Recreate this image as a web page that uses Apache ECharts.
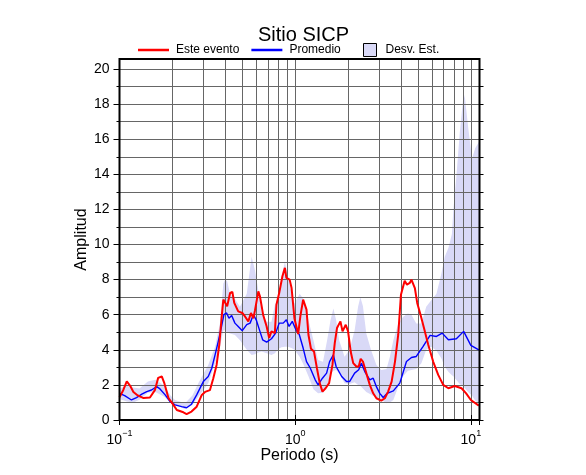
<!DOCTYPE html>
<html><head><meta charset="utf-8">
<script src="https://cdn.jsdelivr.net/npm/echarts@6/dist/echarts.min.js"></script>
<style>html,body{margin:0;padding:0;background:#fff}#c{width:586px;height:475px}</style>
</head><body><div id="c"></div>
<script>
// ---- data ----
const redT = [0.1,0.105,0.110,0.115,0.120,0.127,0.137,0.149,0.159,0.166,0.174,0.180,0.190,0.200,0.212,0.231,0.241,0.257,0.275,0.294,0.307,0.327,0.342,0.357,0.370,0.381,0.390,0.400,0.410,0.426,0.439,0.450,0.474,0.500,0.518,0.541,0.560,0.578,0.590,0.617,0.630,0.657,0.688,0.711,0.733,0.766,0.782,0.811,0.846,0.874,0.891,0.930,0.954,0.990,1.04,1.07,1.11,1.16,1.19,1.23,1.28,1.33,1.38,1.43,1.49,1.56,1.63,1.68,1.73,1.81,1.86,1.94,2.0,2.07,2.14,2.23,2.30,2.36,2.43,2.54,2.66,2.78,2.90,3.09,3.24,3.38,3.54,3.70,3.86,4.0,4.2,4.33,4.49,4.59,4.69,4.8,4.95,5.17,5.47,5.72,6.1,6.52,6.96,7.45,8.1,8.85,9.4,10,11.1];
const redA = [1.3,1.7,2.2,1.95,1.6,1.4,1.25,1.28,1.7,2.4,2.48,2.1,1.25,0.95,0.57,0.44,0.34,0.48,0.76,1.43,1.6,1.7,2.38,3.14,4.3,5.8,6.86,6.76,6.48,7.24,7.3,6.67,6.19,6.1,5.9,5.62,6.1,5.8,6.23,7.33,7.05,6.0,5.33,4.67,5.05,4.95,6.57,7.24,8.19,8.67,8.1,8.0,7.52,5.8,4.9,5.9,6.86,6.29,4.86,4.06,3.9,2.95,2.1,1.62,1.81,2.1,3.14,4.38,5.24,5.62,5.05,5.43,5.05,3.9,3.24,3.05,3.05,3.49,3.33,2.67,2.0,1.52,1.24,1.1,1.24,1.62,2.19,3.33,4.86,7.14,7.94,7.71,7.81,8.0,8.1,7.52,6.67,6.0,5.05,4.29,3.33,2.57,2.0,1.81,1.94,1.81,1.52,1.14,0.82];

const blueT = [0.1,0.107,0.117,0.125,0.134,0.143,0.152,0.163,0.170,0.182,0.194,0.207,0.226,0.241,0.257,0.275,0.300,0.320,0.335,0.350,0.365,0.381,0.393,0.407,0.420,0.435,0.454,0.474,0.500,0.530,0.554,0.578,0.600,0.630,0.653,0.688,0.733,0.774,0.811,0.855,0.891,0.923,0.963,1.01,1.056,1.11,1.16,1.22,1.30,1.35,1.43,1.51,1.57,1.65,1.71,1.84,1.96,2.04,2.18,2.30,2.38,2.49,2.66,2.78,2.90,3.03,3.17,3.34,3.62,3.94,4.3,4.59,4.89,5.35,5.86,6.37,6.87,7.45,8.27,9.1,10,11.1];
const blueA = [1.52,1.39,1.14,1.28,1.47,1.62,1.71,1.9,1.77,1.43,1.05,0.86,0.76,0.7,0.9,1.43,2.19,2.48,2.95,3.71,4.48,5.33,6.0,6.1,5.8,5.96,5.52,5.33,5.09,5.43,5.52,6.0,5.71,5.05,4.57,4.44,4.63,4.95,5.52,5.52,5.71,5.33,5.62,5.14,4.86,4.1,3.33,2.95,2.29,2.0,2.38,2.67,3.33,3.71,3.05,2.48,2.19,2.19,2.67,2.86,3.24,2.76,2.29,2.38,1.9,1.52,1.28,1.52,1.66,2.1,3.33,3.56,3.62,4.19,4.82,4.76,4.95,4.57,4.63,5.05,4.25,4.0];

const bandT = [0.1,0.11,0.12,0.13,0.145,0.16,0.18,0.195,0.207,0.236,0.26,0.281,0.32,0.35,0.373,0.39,0.40,0.41,0.426,0.454,0.485,0.53,0.565,0.59,0.617,0.644,0.688,0.733,0.766,0.81,0.836,0.874,0.91,0.953,0.99,1.06,1.11,1.19,1.27,1.35,1.44,1.52,1.59,1.65,1.71,1.78,1.91,2.04,2.18,2.28,2.35,2.43,2.54,2.7,2.9,3.09,3.31,3.46,3.62,3.86,4.12,4.38,4.59,4.89,5.23,5.57,5.95,6.37,6.8,7.1,7.45,7.8,7.95,8.27,8.64,9.1,9.27,9.65,10.15,10.6,11.2];
const bandLower = [1.2,1.05,1.0,1.15,1.55,1.6,1.33,1.0,0.85,0.62,0.85,1.33,2.09,3.23,4.17,5.12,5.1,5.0,4.93,4.84,4.55,4.0,3.7,3.75,3.85,3.9,3.8,3.7,3.8,4.08,4.15,4.17,4.17,4.1,4.0,3.6,3.2,2.5,1.75,1.52,1.55,1.95,2.6,2.8,2.85,2.65,2.1,2.05,2.15,2.0,1.95,1.8,1.6,1.45,1.25,1.15,0.95,1.0,1.14,1.9,2.5,2.8,2.85,2.9,3.23,4.0,4.17,3.95,3.5,3.04,2.75,2.55,2.5,2.28,2.05,1.9,1.8,1.6,1.4,1.1,0.95];
const bandUpper = [1.8,1.95,1.85,1.8,2.2,2.3,1.95,1.4,1.14,0.95,1.4,2.09,3.13,4.17,5.5,7.78,8.0,7.9,7.2,6.9,6.45,7.2,9.3,8.54,7.4,6.17,5.6,5.6,6.55,7.0,8.16,9.0,8.16,7.3,6.64,7.2,6.93,5.7,4.55,3.42,3.32,4.55,5.7,6.36,5.7,4.55,3.6,4.0,5.12,6.45,7.0,6.5,4.93,4.0,3.13,2.85,2.9,3.6,4.55,5.5,5.88,6.07,6.0,5.5,5.5,6.45,6.83,7.2,8.35,9.3,9.8,10.6,11.97,13.86,16.33,18.6,18.3,16.7,14.9,15.5,15.9];

const xGridVals = [0.2,0.3,0.4,0.5,0.6,0.7,0.8,0.9,1,2,3,4,5,6,7,8,9,10];
const xDecades = [0.1,1,10];
const yMajor = [0,2,4,6,8,10,12,14,16,18,20];
const yUnits = [0,1,2,3,4,5,6,7,8,9,10,11,12,13,14,15,16,17,18,19,20];

// ---- chart ----
const FONT = 'Liberation Sans, Arial, sans-serif';
const gridColor = '#666666';
const bandColor = '#d9d9f7';
const chart = echarts.init(document.getElementById('c'), null, {renderer: 'canvas'});
const XMIN = 0.1, XMAX = 11.2, YMAX = 20.57;

function logAxis(extra) {
  return Object.assign({
    type: 'log', logBase: 10, min: XMIN, max: XMAX, interval: 1, z: 3,
    axisLine: {show: false},
    axisLabel: {show: false},
    splitLine: {show: false},
    axisTick: {show: true, length: 5, lineStyle: {color: '#000'}}
  }, extra);
}

chart.setOption({
  animation: false,
  textStyle: {fontFamily: FONT},
  title: {
    text: 'Sitio SICP', left: 253, top: 20,
    textStyle: {fontSize: 20, fontWeight: 'normal', color: '#000', fontFamily: FONT}
  },
  legend: [
    {
      data: [{name: 'Este evento', icon: 'rect'}, {name: 'Promedio', icon: 'rect'}],
      left: 138, top: 44, itemWidth: 31, itemHeight: 2.5, itemGap: 12, padding: 0,
      textStyle: {fontSize: 12, color: '#000', padding: [0, 0, 0, 2], fontFamily: FONT, lineHeight: 12}
    },
    {
      data: [{name: 'Desv. Est.', icon: 'rect', itemStyle: {color: bandColor, borderColor: '#000', borderWidth: 1}}],
      left: 363, top: 43, itemWidth: 13, itemHeight: 13, padding: 0,
      textStyle: {fontSize: 12, color: '#000', padding: [0, 0, 0, 4], fontFamily: FONT}
    }
  ],
  grid: {
    left: 119.5, right: 586 - 479.5, top: 59, bottom: 475 - 420,
    show: true, z: 8, backgroundColor: 'transparent', borderColor: '#000', borderWidth: 2
  },
  xAxis: [
    logAxis({
      position: 'bottom',
      axisLabel: {
        show: true, customValues: xDecades, margin: 9,
        formatter: function (v) {
          const e = Math.round(Math.log10(v));
          return '{b|10}{s|' + (e < 0 ? '\u2212' + (-e) : e) + '}';
        },
        rich: {
          b: {fontSize: 14, color: '#000', fontFamily: FONT, verticalAlign: 'bottom', lineHeight: 18},
          s: {fontSize: 9, color: '#000', fontFamily: FONT, verticalAlign: 'top', lineHeight: 18}
        }
      },
      name: 'Periodo (s)', nameLocation: 'middle', nameGap: 28, nameMoveOverlap: false,
      nameTextStyle: {fontSize: 16, color: '#000', fontFamily: FONT, verticalAlign: 'top'}
    }),
    logAxis({position: 'top'})
  ],
  yAxis: [
    {
      type: 'value', min: 0, max: YMAX, interval: 2, position: 'left', z: 3,
      axisLine: {show: false},
      axisTick: {show: true, customValues: yMajor, length: 6, lineStyle: {color: '#000'}},
      minorTick: {show: true, splitNumber: 2, length: 3, lineStyle: {color: '#000'}},
      splitLine: {show: true, lineStyle: {color: gridColor, width: 1}},
      minorSplitLine: {show: true, lineStyle: {color: gridColor, width: 1}},
      axisLabel: {
        customValues: yMajor, margin: 10, fontSize: 14, color: '#000', fontFamily: FONT
      },
      name: 'Amplitud', nameLocation: 'middle', nameGap: 30, nameMoveOverlap: false,
      nameTextStyle: {fontSize: 16, color: '#000', fontFamily: FONT}
    },
    {
      type: 'value', min: 0, max: YMAX, position: 'right', z: 3,
      axisLine: {show: false}, axisLabel: {show: false}, splitLine: {show: false},
      axisTick: {show: true, customValues: yUnits, length: 4, lineStyle: {color: '#000'}}
    }
  ],
  series: [
    {
      name: 'Desv. Est.', type: 'custom', z: 1, clip: true,
      xAxisIndex: 0, yAxisIndex: 0,
      itemStyle: {color: bandColor},
      data: [[bandT[0], bandLower[0]]],
      encode: {x: 0, y: 1},
      renderItem: function (params, api) {
        const pts = [];
        for (let i = 0; i < bandT.length; i++) pts.push(api.coord([bandT[i], bandUpper[i]]));
        for (let i = bandT.length - 1; i >= 0; i--) pts.push(api.coord([bandT[i], bandLower[i]]));
        return {type: 'polygon', shape: {points: pts}, style: {fill: bandColor}};
      }
    },
    {
      name: 'grid-x', type: 'line', z: 3, data: [], symbol: 'none',
      markLine: {
        silent: true, z: 3, symbol: ['none', 'none'], animation: false,
        label: {show: false},
        lineStyle: {color: gridColor, width: 1, type: 'solid'},
        emphasis: {disabled: true},
        data: xGridVals.map(v => ({xAxis: v}))
      }
    },
    {
      name: 'Promedio', type: 'line', z: 6, symbol: 'none', showSymbol: false,
      lineStyle: {color: '#0000ff', width: 1.4}, itemStyle: {color: '#0000ff'},
      data: blueT.map((t, i) => [t, blueA[i]])
    },
    {
      name: 'Este evento', type: 'line', z: 7, symbol: 'none', showSymbol: false,
      lineStyle: {color: '#ff0000', width: 2}, itemStyle: {color: '#ff0000'},
      data: redT.map((t, i) => [t, redA[i]])
    }
  ]
});
</script>
</body></html>
